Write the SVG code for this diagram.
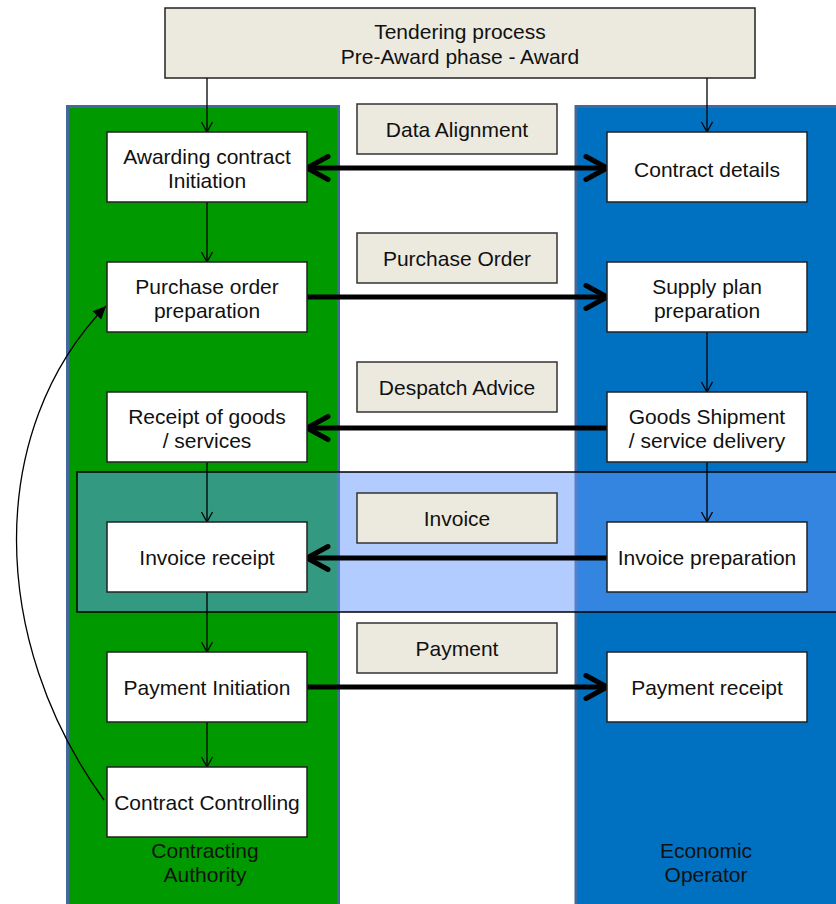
<svg xmlns="http://www.w3.org/2000/svg" width="836" height="904" viewBox="0 0 836 904">
  <style>
    text { font-family: "Liberation Sans", Arial, sans-serif; font-size: 21px; fill: #111; text-anchor: middle; }
    .step { fill: #ffffff; stroke: #222; stroke-width: 1.5; }
    .msg { fill: #ECEADF; stroke: #333; stroke-width: 1.5; }
    .lane { stroke: #44679C; stroke-width: 3; }
    .thin { fill: none; stroke: #000; stroke-width: 1.3; }
    .thick { fill: none; stroke: #000; stroke-width: 5; }
  </style>
  <defs>
    <marker id="vee" markerUnits="userSpaceOnUse" markerWidth="14" markerHeight="14" viewBox="-12 -7 14 14" refX="0" refY="0" orient="auto" overflow="visible">
      <path d="M-10,-5.5 L0,0 L-10,5.5" fill="none" stroke="#000" stroke-width="1.3"/>
    </marker>
    <marker id="chev" markerUnits="userSpaceOnUse" markerWidth="30" markerHeight="30" viewBox="-26 -15 30 30" refX="-2" refY="0" orient="auto-start-reverse" overflow="visible">
      <path d="M-21,-11.5 L0,0 L-21,11.5" fill="none" stroke="#000" stroke-width="5" stroke-linecap="round" stroke-linejoin="round"/>
    </marker>
    <marker id="solid" markerUnits="userSpaceOnUse" markerWidth="16" markerHeight="16" viewBox="-14 -8 16 16" refX="0" refY="0" orient="auto" overflow="visible">
      <path d="M-13,-6 L0,0 L-13,6 Z" fill="#000"/>
    </marker>
  </defs>

  <!-- swimlanes -->
  <g id="lane-authority">
    <rect class="lane" x="67.5" y="106.5" width="271" height="810" fill="#009900"/>
    <text x="205" y="858">Contracting</text>
    <text x="205" y="882">Authority</text>
  </g>
  <g id="lane-operator">
    <rect class="lane" x="576" y="106.5" width="270" height="810" fill="#0070C0"/>
    <text x="706" y="858">Economic</text>
    <text x="706" y="882">Operator</text>
  </g>

  <!-- invoicing band across both lanes -->
  <g id="invoice-band">
    <rect x="77" y="472" width="770" height="140" fill="rgb(102,153,255)" fill-opacity="0.5" stroke="#000" stroke-width="1.5"/>
  </g>

  <!-- top stage -->
  <g id="tendering">
    <rect x="165" y="8" width="590" height="70" fill="#ECEADF" stroke="#222" stroke-width="1.5"/>
    <text x="460" y="39">Tendering process</text>
    <text x="460" y="64">Pre-Award phase - Award</text>
  </g>

  <!-- connectors -->
  <g id="connectors">
    <line class="thin" x1="207" y1="78" x2="207" y2="132" marker-end="url(#vee)"/>
    <line class="thin" x1="707" y1="78" x2="707" y2="132" marker-end="url(#vee)"/>
    <line class="thin" x1="207" y1="202" x2="207" y2="262" marker-end="url(#vee)"/>
    <line class="thin" x1="207" y1="462" x2="207" y2="522" marker-end="url(#vee)"/>
    <line class="thin" x1="207" y1="592" x2="207" y2="652" marker-end="url(#vee)"/>
    <line class="thin" x1="207" y1="722" x2="207" y2="767" marker-end="url(#vee)"/>
    <line class="thin" x1="707" y1="332" x2="707" y2="392" marker-end="url(#vee)"/>
    <line class="thin" x1="707" y1="462" x2="707" y2="522" marker-end="url(#vee)"/>

    <line class="thick" x1="309" y1="168" x2="605" y2="168" marker-start="url(#chev)" marker-end="url(#chev)"/>
    <line class="thick" x1="307" y1="297" x2="605" y2="297" marker-end="url(#chev)"/>
    <line class="thick" x1="607" y1="428" x2="309" y2="428" marker-end="url(#chev)"/>
    <line class="thick" x1="607" y1="558" x2="309" y2="558" marker-end="url(#chev)"/>
    <line class="thick" x1="307" y1="687" x2="605" y2="687" marker-end="url(#chev)"/>

    <path class="thin" d="M104,800 C-12,640 -14,430 106,306" marker-end="url(#solid)"/>
  </g>

  <!-- message labels -->
  <g id="msg-data-alignment">
    <rect class="msg" x="357" y="104" width="200" height="50"/>
    <text x="457" y="137">Data Alignment</text>
  </g>
  <g id="msg-purchase-order">
    <rect class="msg" x="357" y="233" width="200" height="50"/>
    <text x="457" y="266">Purchase Order</text>
  </g>
  <g id="msg-despatch-advice">
    <rect class="msg" x="357" y="362" width="200" height="50"/>
    <text x="457" y="395">Despatch Advice</text>
  </g>
  <g id="msg-invoice">
    <rect class="msg" x="357" y="493" width="200" height="50"/>
    <text x="457" y="526">Invoice</text>
  </g>
  <g id="msg-payment">
    <rect class="msg" x="357" y="623" width="200" height="50"/>
    <text x="457" y="656">Payment</text>
  </g>

  <!-- contracting authority steps -->
  <g id="awarding-contract">
    <rect class="step" x="107" y="132" width="200" height="70"/>
    <text x="207" y="164">Awarding contract</text>
    <text x="207" y="188">Initiation</text>
  </g>
  <g id="purchase-order-prep">
    <rect class="step" x="107" y="262" width="200" height="70"/>
    <text x="207" y="294">Purchase order</text>
    <text x="207" y="318">preparation</text>
  </g>
  <g id="receipt-goods">
    <rect class="step" x="107" y="392" width="200" height="70"/>
    <text x="207" y="424">Receipt of goods</text>
    <text x="207" y="448">/ services</text>
  </g>
  <g id="invoice-receipt">
    <rect class="step" x="107" y="522" width="200" height="70"/>
    <text x="207" y="565">Invoice receipt</text>
  </g>
  <g id="payment-initiation">
    <rect class="step" x="107" y="652" width="200" height="70"/>
    <text x="207" y="695">Payment Initiation</text>
  </g>
  <g id="contract-controlling">
    <rect class="step" x="107" y="767" width="200" height="70"/>
    <text x="207" y="810">Contract Controlling</text>
  </g>

  <!-- economic operator steps -->
  <g id="contract-details">
    <rect class="step" x="607" y="132" width="200" height="70"/>
    <text x="707" y="177">Contract details</text>
  </g>
  <g id="supply-plan">
    <rect class="step" x="607" y="262" width="200" height="70"/>
    <text x="707" y="294">Supply plan</text>
    <text x="707" y="318">preparation</text>
  </g>
  <g id="goods-shipment">
    <rect class="step" x="607" y="392" width="200" height="70"/>
    <text x="707" y="424">Goods Shipment</text>
    <text x="707" y="448">/ service delivery</text>
  </g>
  <g id="invoice-preparation">
    <rect class="step" x="607" y="522" width="200" height="70"/>
    <text x="707" y="565">Invoice preparation</text>
  </g>
  <g id="payment-receipt">
    <rect class="step" x="607" y="652" width="200" height="70"/>
    <text x="707" y="695">Payment receipt</text>
  </g>
</svg>
